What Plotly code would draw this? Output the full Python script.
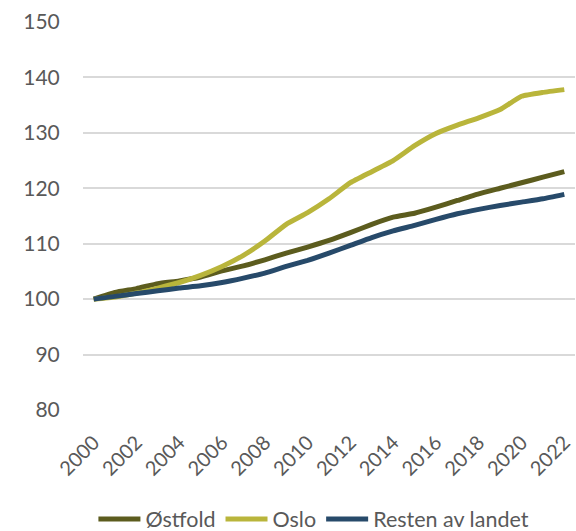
import plotly.graph_objects as go

years = list(range(2000, 2023))
ostfold = [100, 101.2, 101.9, 102.8, 103.3, 104.0, 105.1, 106.0, 107.1, 108.3, 109.4, 110.6,
           112.0, 113.5, 114.8, 115.5, 116.6, 117.8, 119.0, 120.0, 121.0, 122.0, 123.0]
oslo = [100, 100.4, 101.1, 102.0, 103.0, 104.3, 105.9, 107.9, 110.5, 113.5, 115.6, 118.1,
        121.0, 123.0, 125.0, 127.7, 129.9, 131.4, 132.7, 134.2, 136.6, 137.3, 137.8]
resten = [100, 100.5, 101.0, 101.5, 102.0, 102.4, 103.0, 103.8, 104.7, 105.9, 107.0, 108.3,
          109.7, 111.1, 112.3, 113.3, 114.4, 115.4, 116.2, 116.9, 117.5, 118.1, 118.9]
tick_years = list(range(2000, 2023, 2))
y_ticks = [80, 90, 100, 110, 120, 130, 140, 150]

series = [("Østfold", ostfold, "#5c5c1e"),
          ("Oslo", oslo, "#b9b53b"),
          ("Resten av landet", resten, "#274a6a")]

fig = go.Figure()
for name, vals, col in series:
    fig.add_trace(go.Scatter(x=years, y=vals, name=name, mode="lines",
                             line=dict(color=col, width=5, shape="spline", smoothing=0.4)))

fig.update_layout(
    width=576, height=531,
    margin=dict(l=83, r=1, t=22, b=121, autoexpand=False),
    paper_bgcolor="white", plot_bgcolor="white",
    font=dict(family="Lato, 'Open Sans', sans-serif", color="#595959", size=21),
    showlegend=True,
    legend=dict(orientation="h", x=0.545, xanchor="center", xref="container",
                y=12 / 531, yanchor="middle", yref="container",
                font=dict(size=21.5, color="#595959"), tracegroupgap=0, itemwidth=42),
    xaxis=dict(range=[1999.5, 2022.5], tickvals=tick_years, ticktext=[str(t) for t in tick_years],
               tickangle=-45, showgrid=False, zeroline=False, showline=False,
               tickfont=dict(size=20), ticks="outside", ticklen=12, tickcolor="white",
               automargin=False),
    yaxis=dict(range=[80, 150], tickvals=y_ticks, showgrid=True, gridcolor="#d9d9d9",
               gridwidth=1.5, zeroline=False, showline=False, tickfont=dict(size=21),
               ticks="outside", ticklen=18, tickcolor="white", automargin=False),
)

fig.write_html("out.html", config={"displayModeBar": False},
               post_script="document.body.style.margin='0';document.body.style.overflow='hidden';")
